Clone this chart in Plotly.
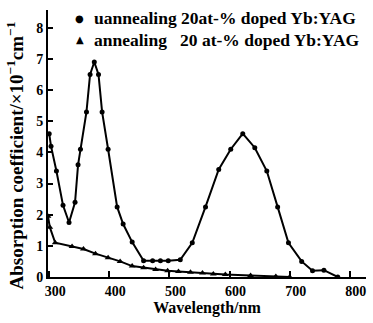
import plotly.graph_objects as go

# Unannealed 20at-% Yb:YAG (circles)
unannealed_nm = [300, 303, 312, 323, 333, 343, 348, 352, 362, 368, 375, 382, 388, 398,
                 413, 423, 438, 457, 472, 485, 498, 518, 538, 560, 582, 602, 622, 642,
                 662, 680, 698, 720, 738, 757, 780]
unannealed = [4.6, 4.2, 3.4, 2.3, 1.75, 2.4, 3.6, 4.1, 5.3, 6.5, 6.9, 6.5, 5.3, 4.1,
              2.25, 1.7, 1.12, 0.52, 0.52, 0.52, 0.52, 0.55, 1.1, 2.25, 3.45, 4.1, 4.6, 4.15,
              3.4, 2.25, 1.1, 0.5, 0.2, 0.22, 0.0]

# Annealed 20at-% Yb:YAG (triangles)
annealed_nm = [298, 301, 310, 338, 357, 377, 398, 418, 438, 457, 477, 497, 515, 535,
               555, 573, 593, 635, 677, 700]
annealed = [1.95, 1.6, 1.1, 0.98, 0.9, 0.75, 0.62, 0.5, 0.35, 0.3, 0.24, 0.2, 0.18, 0.15,
            0.13, 0.1, 0.08, 0.05, 0.02, 0.0]

x_ticks = [300, 400, 500, 600, 700, 800]
y_ticks = [0, 1, 2, 3, 4, 5, 6, 7, 8]

legend_names = ["uannealing 20at-% doped Yb:YAG",
                "annealing\u00a0\u00a0 20\u00a0at-% doped Yb:YAG"]
legend_symbols = ["●", "▲"]

y_title = "Absorption coefficient/×10<sup>−1</sup>cm<sup>−1</sup>"
x_title = "Wavelength/nm"

FONT = "Liberation Serif"

fig = go.Figure()
fig.add_trace(go.Scatter(x=unannealed_nm, y=unannealed, mode="lines+markers",
                         name=legend_names[0],
                         line=dict(color="black", width=2),
                         marker=dict(symbol="circle", size=5, color="black"),
                         showlegend=False))
fig.add_trace(go.Scatter(x=annealed_nm, y=annealed, mode="lines+markers",
                         name=legend_names[1],
                         line=dict(color="black", width=2),
                         marker=dict(symbol="triangle-up", size=6, color="black"),
                         showlegend=False))

# legend drawn as annotations
for i, (sym, name) in enumerate(zip(legend_symbols, legend_names)):
    ypos = [0.970, 0.888][i]
    fig.add_annotation(xref="paper", yref="paper", x=0.10, y=ypos, text=sym,
                       showarrow=False, xanchor="center", yanchor="middle",
                       font=dict(family="DejaVu Sans", size=10, color="black"))
    fig.add_annotation(xref="paper", yref="paper", x=0.138, y=ypos, text="<b>" + name + "</b>",
                       showarrow=False, xanchor="left", yanchor="middle",
                       font=dict(family=FONT, size=17.5, color="black"))

# y axis title as rotated annotation
fig.add_annotation(xref="paper", yref="paper", x=-0.104, y=0.455, text="<b>" + y_title + "</b>",
                   textangle=-90, showarrow=False, xanchor="center", yanchor="middle",
                   font=dict(family=FONT, size=19, color="black"))

fig.update_layout(
    width=373, height=323,
    margin=dict(l=48, r=7, t=10, b=46),
    paper_bgcolor="white", plot_bgcolor="white",
    font=dict(family=FONT, color="black", size=14),
    showlegend=False,
    xaxis=dict(range=[298, 827], tickvals=x_ticks, ticktext=["<b>%d</b>" % v for v in x_ticks],
               showgrid=False, zeroline=False, showline=True, linecolor="black", linewidth=2,
               ticks="inside", ticklen=6, tickwidth=1.5, tickcolor="black",
               tickfont=dict(family=FONT, size=14), ticklabelshift=6,
               title=dict(text="<b>" + x_title + "</b>", standoff=2,
                          font=dict(family=FONT, size=16))),
    yaxis=dict(range=[0, 8.57], tickvals=y_ticks, ticktext=["<b>%d</b>" % v for v in y_ticks],
               showgrid=False, zeroline=False, showline=True, linecolor="black", linewidth=2,
               ticks="inside", ticklen=5, tickwidth=1.5, tickcolor="black",
               tickfont=dict(family=FONT, size=14)),
)

fig.write_html("out.html")
